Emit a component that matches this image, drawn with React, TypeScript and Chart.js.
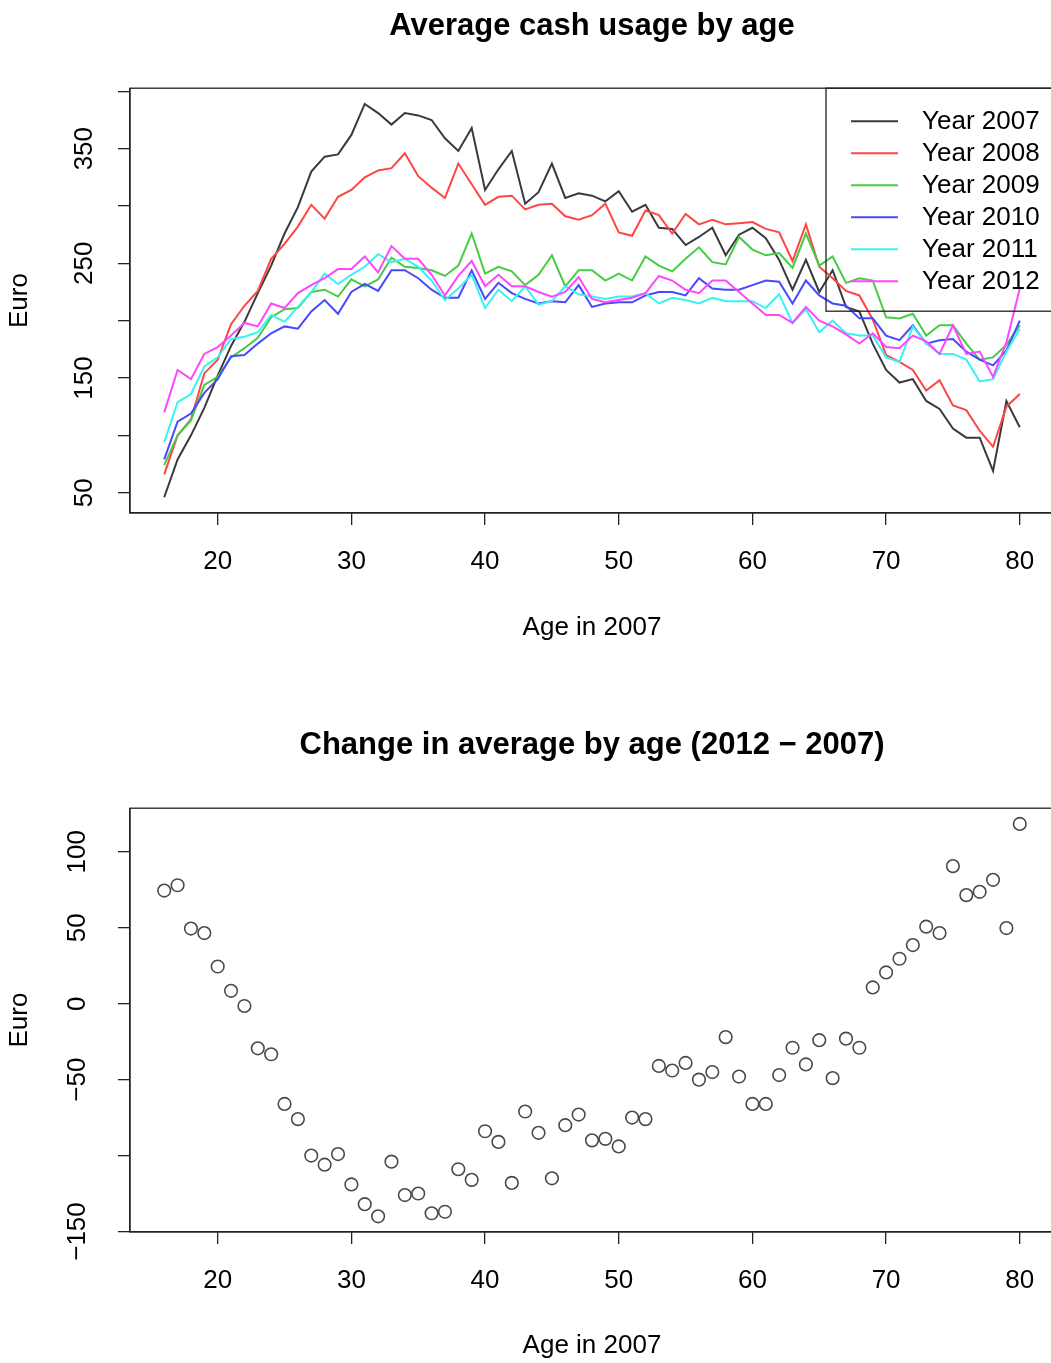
import { useEffect, useRef } from 'react';
import { Chart, registerables } from 'chart.js';

Chart.register(...registerables);

const FONT = "'Liberation Sans', Arial, Helvetica, sans-serif";

// Age of the respondent in 2007
const ages = [
  16, 17, 18, 19, 20, 21, 22, 23, 24, 25, 26, 27, 28, 29, 30, 31, 32, 33, 34, 35, 36, 37, 38,
  39, 40, 41, 42, 43, 44, 45, 46, 47, 48, 49, 50, 51, 52, 53, 54, 55, 56, 57, 58, 59, 60, 61,
  62, 63, 64, 65, 66, 67, 68, 69, 70, 71, 72, 73, 74, 75, 76, 77, 78, 79, 80,
];

// Average cash usage (Euro) per age, one list per survey year
const cash2007 = [
  46, 79, 100, 124, 152, 178, 199, 224, 248, 276, 299, 330, 343, 345, 362, 389, 381, 371, 381,
  379, 375, 359, 348, 368, 314, 332, 348, 302, 312, 337, 307, 311, 309, 304, 313, 295, 301, 281,
  280, 266, 273, 281, 257, 275, 281, 272, 253, 227, 253, 225, 244, 212, 208, 180, 157, 146, 149,
  130, 123, 106, 98, 98, 69, 130, 107,
];
const cash2008 = [
  66, 100, 114, 154, 166, 197, 213, 226, 254, 267, 282, 301, 289, 308, 314, 325, 331, 333, 346,
  326, 316, 307, 337, 319, 301, 308, 309, 297, 301, 302, 291, 288, 292, 302, 277, 274, 296, 292,
  276, 293, 284, 288, 284, 285, 286, 280, 277, 252, 284, 247, 237, 226, 222, 201, 170, 164, 157,
  139, 148, 126, 122, 104, 90, 125, 136,
];
const cash2009 = [
  74, 100, 113, 144, 151, 168, 176, 185, 203, 210, 211, 225, 227, 221, 236, 230, 236, 255, 247,
  246, 244, 239, 248, 276, 241, 247, 243, 231, 240, 257, 230, 244, 244, 235, 241, 235, 256, 248,
  243, 254, 264, 251, 249, 273, 262, 257, 259, 246, 276, 248, 256, 233, 237, 235, 203, 202, 206,
  187, 196, 196, 180, 166, 168, 179, 196,
];
const cash2010 = [
  79, 112, 119, 137, 149, 169, 170, 180, 189, 195, 193, 208, 218, 206, 225, 232, 226, 244, 244,
  237, 227, 220, 220, 244, 219, 233, 224, 219, 215, 217, 216, 231, 212, 215, 216, 216, 222, 225,
  225, 222, 237, 228, 227, 227, 231, 235, 234, 215, 235, 222, 215, 213, 202, 202, 187, 183, 196,
  180, 183, 184, 173, 166, 161, 174, 200,
];
const cash2011 = [
  94, 129, 136, 160, 168, 184, 186, 190, 205, 199, 212, 225, 241, 232, 240, 247, 258, 251, 254,
  247, 235, 218, 228, 240, 211, 227, 217, 230, 214, 217, 230, 223, 221, 219, 221, 221, 224, 215,
  220, 218, 215, 220, 217, 217, 217, 211, 223, 198, 210, 190, 200, 189, 187, 187, 168, 164, 195,
  180, 171, 171, 166, 147, 149, 173, 193,
];
const cash2012 = [
  120, 157, 149, 171, 177, 187, 198, 195, 215, 211, 224, 231, 237, 245, 245, 256, 242, 265, 254,
  254, 240, 222, 239, 252, 230, 240, 230, 230, 225, 221, 225, 238, 219, 216, 218, 220, 224, 239,
  235, 227, 224, 235, 235, 225, 215, 205, 205, 198, 212, 200, 195, 188, 180, 189, 177, 176, 187,
  182, 171, 196, 171, 173, 151, 181, 228,
];

// Change in the average between 2012 and 2007, per age
const change2012vs2007 = [
  74.5, 78, 49.5, 46.5, 24.5, 8.5, -1.5, -29.4, -33.3, -66, -76, -100, -106, -99, -119, -132,
  -140, -104, -126, -125, -138, -137, -109, -116, -84, -91, -118, -71, -85, -115, -80, -73, -90,
  -89, -94, -75, -76, -41, -44, -39, -50, -45, -22, -48, -66, -66, -47, -29, -40, -24, -49, -23,
  -29, 10.7, 20.6, 29.6, 38.6, 50.7, 46.5, 90.6, 71.5, 73.7, 81.6, 49.8, 118.4,
];

const seriesLabels = ['Year 2007', 'Year 2008', 'Year 2009', 'Year 2010', 'Year 2011', 'Year 2012'];
const seriesValues = [cash2007, cash2008, cash2009, cash2010, cash2011, cash2012];
const seriesColors = ['#3a3a3a', '#ff4545', '#45cc45', '#4848ff', '#38f2f2', '#ff45ff'];

// Axis labels that are printed (other ticks stay unlabelled)
const xTickLabels = [20, 30, 40, 50, 60, 70, 80];
const topYTickLabels = [50, 150, 250, 350];
const bottomYTickLabels = [100, 50, 0, -50, -150];

const CANVAS_W = 1184;
const TOP_H = 682;
const BOTTOM_H = 681;
const INK = '#222';

// base-graphics style range: data extent widened by 4% on each side
function paddedRange(values: number[]) {
  const lo = Math.min(...values);
  const hi = Math.max(...values);
  const pad = (hi - lo) * 0.04;
  return { min: lo - pad, max: hi + pad };
}

const fmt = (v: number) => String(v).replace('-', '\u2212');

function xAxis(range: { min: number; max: number }, height: number, titlePad: number) {
  return {
    type: 'linear',
    position: 'bottom',
    min: range.min,
    max: range.max,
    afterFit: (s: any) => {
      s.height = height;
    },
    ticks: {
      stepSize: 10,
      includeBounds: false,
      autoSkip: false,
      maxRotation: 0,
      padding: 21,
      color: '#000',
      font: { family: FONT, size: 26 },
      callback: (v: number) => (xTickLabels.includes(v) ? String(v) : ''),
    },
    grid: { display: true, drawOnChartArea: false, drawTicks: true, tickLength: 12, color: INK, lineWidth: 1.3 },
    border: { display: true, color: INK, width: 1.3 },
    title: {
      display: true,
      text: 'Age in 2007',
      color: '#000',
      font: { family: FONT, size: 26 },
      padding: { top: 0, bottom: titlePad },
    },
  };
}

function yAxis(range: { min: number; max: number }, labels: number[]) {
  return {
    type: 'linear',
    position: 'left',
    min: range.min,
    max: range.max,
    afterFit: (s: any) => {
      s.width = 130;
    },
    ticks: {
      stepSize: 50,
      includeBounds: false,
      autoSkip: false,
      minRotation: 90,
      maxRotation: 90,
      crossAlign: 'center',
      padding: 11,
      color: '#000',
      font: { family: FONT, size: 26 },
      callback: (v: number) => (labels.includes(v) ? fmt(v) : ''),
    },
    grid: { display: true, drawOnChartArea: false, drawTicks: true, tickLength: 12, color: INK, lineWidth: 1.3 },
    border: { display: true, color: INK, width: 1.3 },
    title: {
      display: true,
      text: 'Euro',
      color: '#000',
      font: { family: FONT, size: 26 },
      padding: { top: 4, bottom: 0 },
    },
  };
}

// Full frame around the plotting region
const framePlugin = {
  id: 'frame',
  afterDraw(chart: any) {
    const { ctx, chartArea: a } = chart;
    ctx.save();
    ctx.strokeStyle = INK;
    ctx.lineWidth = 1.3;
    ctx.strokeRect(a.left, a.top, a.right - a.left, a.bottom - a.top);
    ctx.restore();
  },
};

// Boxed legend in the top-right corner of the plotting region
const cornerLegendPlugin = {
  id: 'cornerLegend',
  afterDraw(chart: any) {
    const { ctx, chartArea: a } = chart;
    const left = a.right - 228;
    const top = a.top;
    ctx.save();
    ctx.strokeStyle = INK;
    ctx.lineWidth = 1.3;
    ctx.strokeRect(left, top, a.right - left, 223);
    ctx.font = `26px ${FONT}`;
    ctx.textBaseline = 'middle';
    ctx.textAlign = 'left';
    chart.data.datasets.forEach((ds: any, i: number) => {
      const y = top + 33 + 32 * i;
      ctx.strokeStyle = ds.borderColor;
      ctx.lineWidth = 2;
      ctx.beginPath();
      ctx.moveTo(a.right - 203, y);
      ctx.lineTo(a.right - 156, y);
      ctx.stroke();
      ctx.fillStyle = '#000';
      ctx.fillText(ds.label, a.right - 132, y + 1);
    });
    ctx.restore();
  },
};

const xRange = paddedRange(ages);
const topRange = paddedRange(seriesValues.flat());
const bottomRange = paddedRange(change2012vs2007);

function mainTitle(text: string, padTop: number, padBottom: number) {
  return {
    display: true,
    fullSize: false,
    text,
    color: '#000',
    font: { family: FONT, size: 31, weight: 'bold' },
    padding: { top: padTop, bottom: padBottom },
  };
}

function topConfig(): any {
  return {
    type: 'line',
    data: {
      datasets: seriesValues.map((vals, i) => ({
        label: seriesLabels[i],
        data: ages.map((a, k) => ({ x: a, y: vals[k] })),
        borderColor: seriesColors[i],
        backgroundColor: seriesColors[i],
        borderWidth: 2,
        pointRadius: 0,
        tension: 0,
        fill: false,
        order: seriesValues.length - i,
      })),
    },
    options: {
      responsive: false,
      animation: false,
      layout: { padding: { left: 0, right: 130, top: 0, bottom: 0 } },
      plugins: {
        legend: { display: false },
        tooltip: { enabled: false },
        title: mainTitle('Average cash usage by age', 8, 43),
      },
      scales: {
        x: xAxis(xRange, TOP_H - 513, 39),
        y: yAxis(topRange, topYTickLabels),
      },
    },
    plugins: [framePlugin, cornerLegendPlugin],
  };
}

function bottomConfig(): any {
  return {
    type: 'scatter',
    data: {
      datasets: [
        {
          label: 'Change 2012 - 2007',
          data: ages.map((a, k) => ({ x: a, y: change2012vs2007[k] })),
          pointRadius: 6.3,
          pointBorderWidth: 1.6,
          pointBorderColor: '#4a4a4a',
          pointBackgroundColor: 'rgba(0,0,0,0)',
          showLine: false,
        },
      ],
    },
    options: {
      responsive: false,
      animation: false,
      layout: { padding: { left: 0, right: 130, top: 0, bottom: 0 } },
      plugins: {
        legend: { display: false },
        tooltip: { enabled: false },
        title: mainTitle('Change in average by age (2012 \u2212 2007)', 45, 44),
      },
      scales: {
        x: xAxis(xRange, BOTTOM_H - 550, 2),
        y: yAxis(bottomRange, bottomYTickLabels),
      },
    },
    plugins: [framePlugin],
  };
}

export default function App() {
  const topRef = useRef<HTMLCanvasElement>(null);
  const bottomRef = useRef<HTMLCanvasElement>(null);

  useEffect(() => {
    if (!topRef.current || !bottomRef.current) return;
    const top = new Chart(topRef.current, topConfig());
    const bottom = new Chart(bottomRef.current, bottomConfig());
    return () => {
      top.destroy();
      bottom.destroy();
    };
  }, []);

  return (
    <div
      style={{
        position: 'absolute',
        left: 0,
        top: 0,
        width: 1051,
        height: 1363,
        overflow: 'hidden',
        background: '#fff',
      }}
    >
      <canvas
        ref={topRef}
        width={CANVAS_W}
        height={TOP_H}
        style={{ position: 'absolute', left: 0, top: 0, display: 'block' }}
      />
      <canvas
        ref={bottomRef}
        width={CANVAS_W}
        height={BOTTOM_H}
        style={{ position: 'absolute', left: 0, top: TOP_H, display: 'block' }}
      />
    </div>
  );
}
